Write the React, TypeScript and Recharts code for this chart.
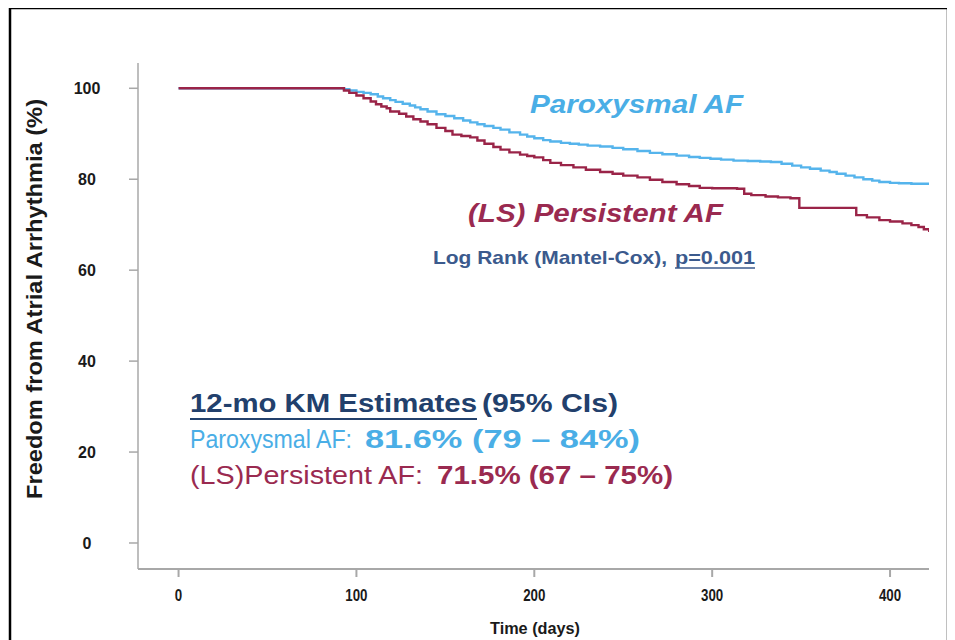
import { LineChart, Line, XAxis, YAxis } from 'recharts';

// Kaplan-Meier estimates (days, % free of AF)
const parDays = [0, 90, 93, 96, 100, 104, 108, 112, 115, 119, 122, 126, 130, 133, 136, 140, 145, 150, 155, 160, 164, 168, 172, 177, 181, 186, 192, 196, 200, 205, 209, 215, 220, 225, 230, 237, 244, 250, 258, 265, 272, 280, 287, 293, 299, 305, 312, 320, 327, 333, 339, 345, 350, 355, 361, 366, 370, 375, 380, 385, 390, 394, 400, 405, 412, 422];
const parSurv = [100, 100, 99.8, 99.5, 99.2, 99.0, 98.7, 98.2, 97.8, 97.4, 97.0, 96.6, 96.2, 95.8, 95.4, 94.9, 94.3, 93.9, 93.4, 92.9, 92.5, 92.1, 91.7, 91.3, 90.9, 90.3, 89.8, 89.4, 89.0, 88.6, 88.3, 88.0, 87.8, 87.6, 87.4, 87.2, 86.9, 86.6, 86.2, 85.8, 85.5, 85.2, 84.9, 84.7, 84.5, 84.3, 84.1, 84.0, 83.9, 83.8, 83.4, 83.0, 82.6, 82.3, 81.9, 81.6, 81.2, 80.8, 80.4, 80.0, 79.7, 79.4, 79.2, 79.1, 79.0, 79.0];

const perDays = [0, 90, 93, 96, 100, 104, 108, 111, 114, 117, 119, 124, 128, 132, 136, 140, 145, 150, 154, 159, 164, 168, 172, 177, 181, 186, 192, 196, 200, 205, 209, 215, 222, 229, 237, 244, 250, 258, 265, 272, 280, 287, 293, 300, 314, 318, 322, 330, 337, 344, 349, 362, 376, 381, 387, 394, 400, 407, 412, 416, 419, 422];
const perSurv = [100, 100, 99.5, 99.0, 98.4, 97.8, 97.1, 96.5, 96.0, 95.6, 94.9, 94.4, 93.8, 93.2, 92.7, 92.1, 91.3, 90.6, 89.8, 89.5, 89.2, 88.5, 87.8, 87.1, 86.5, 85.9, 85.4, 85.1, 84.8, 84.2, 83.6, 83.1, 82.6, 82.1, 81.6, 81.2, 80.8, 80.4, 79.9, 79.4, 78.9, 78.5, 78.1, 78.0, 77.9, 76.8, 76.5, 76.2, 76.0, 75.8, 73.7, 73.7, 73.7, 72.1, 71.6, 71.0, 70.7, 70.3, 69.9, 69.5, 69.0, 68.4];

const xTicks = [0, 100, 200, 300, 400];
const yTicks = [0, 20, 40, 60, 80, 100];

const BLUE = '#55b4ec';
const RED = '#9a2448';
const BLUE_TXT = '#4aaee6';
const RED_TXT = '#9a2a50';
const NAVY = '#22406c';
const AXIS = '#a8a8a8';

const parData = parDays.map((d, i) => ({ day: d, surv: parSurv[i] }));
const perData = perDays.map((d, i) => ({ day: d, surv: perSurv[i] }));

const YTick = ({ x, y, payload }: any) => (
  <text x={x} y={y} dy={6} textAnchor="middle" fontFamily="'Liberation Sans', Arial, sans-serif" fontWeight="bold" fontSize={16} fill="#1a1a1a">
    {payload.value}
  </text>
);

const XTick = ({ x, y, payload }: any) => {
  const s = String(payload.value);
  return (
    <text x={x} y={y} dy={24} textAnchor="middle" fontFamily="'Liberation Sans Narrow', 'Liberation Sans', Arial, sans-serif" fontWeight="bold" fontSize={16} fill="#1a1a1a" textLength={s.length * 7.4} lengthAdjust="spacingAndGlyphs">
      {s}
    </text>
  );
};

const font = "'Liberation Sans', Arial, sans-serif";

export default function App() {
  return (
    <div style={{ position: 'relative', width: 955, height: 640, margin: '-8px 0 0 -8px', background: '#fff', fontFamily: font }}>
      <LineChart width={955} height={640} margin={{ top: 63, right: 26, bottom: 31, left: 78 }}>
        <XAxis
          dataKey="day"
          type="number"
          domain={[-22.8, 421.9]}
          ticks={xTicks}
          allowDataOverflow
          height={40}
          stroke={AXIS}
          strokeWidth={2}
          tickSize={8}
          tickMargin={0}
          tick={<XTick />}
        />
        <YAxis
          type="number"
          domain={[-5.72, 105.56]}
          ticks={yTicks}
          allowDataOverflow
          width={60}
          stroke={AXIS}
          strokeWidth={1.5}
          tickSize={9}
          tickMargin={42}
          tick={<YTick />}
        />
        <Line data={parData} dataKey="surv" type="stepAfter" stroke={BLUE} strokeWidth={2.4} dot={false} isAnimationActive={false} />
        <Line data={perData} dataKey="surv" type="stepAfter" stroke={RED} strokeWidth={2.4} dot={false} isAnimationActive={false} />
      </LineChart>
      <svg width={955} height={640} style={{ position: 'absolute', left: 0, top: 0, pointerEvents: 'none' }} fontFamily={font}>
        <rect x={10} y={8} width={938} height={700} fill="none" stroke="#000" strokeWidth={2.5} />
        <text transform="translate(42,299) rotate(-90)" textAnchor="middle" fontSize={22} fontWeight="bold" fill="#1a1a1a" textLength={400} lengthAdjust="spacingAndGlyphs">
          Freedom from Atrial Arrhythmia (%)
        </text>
        <text x={490} y={634} fontFamily="'Liberation Sans Narrow', 'Liberation Sans', Arial, sans-serif" fontSize={16} fontWeight="bold" fill="#1a1a1a" textLength={90} lengthAdjust="spacingAndGlyphs">
          Time (days)
        </text>

        <text x={530} y={113} fontSize={25} fontWeight="bold" fontStyle="italic" fill={BLUE_TXT} textLength={213} lengthAdjust="spacingAndGlyphs">
          Paroxysmal AF
        </text>
        <text x={468} y={222} fontSize={26} fontWeight="bold" fontStyle="italic" fill={RED_TXT} textLength={255} lengthAdjust="spacingAndGlyphs">
          (LS) Persistent AF
        </text>
        <text x={433} y={264} fontSize={19} fontWeight="bold" fill="#3b5a8d" textLength={234} lengthAdjust="spacingAndGlyphs">
          Log Rank (Mantel-Cox),
        </text>
        <text x={675} y={264} fontSize={19} fontWeight="bold" fill="#3b5a8d" textLength={80} lengthAdjust="spacingAndGlyphs">
          p=0.001
        </text>
        <line x1={675} x2={755} y1={268} y2={268} stroke="#3b5a8d" strokeWidth={1.5} />

        <text x={190} y={412} fontSize={25} fontWeight="bold" fill={NAVY} textLength={287} lengthAdjust="spacingAndGlyphs">
          12-mo KM Estimates
        </text>
        <line x1={190} x2={477} y1={419} y2={419} stroke={NAVY} strokeWidth={2} />
        <text x={482} y={412} fontSize={25} fontWeight="bold" fill={NAVY} textLength={136} lengthAdjust="spacingAndGlyphs">
          (95% CIs)
        </text>
        <text x={190} y={448} fontSize={25} fill={BLUE_TXT} textLength={162} lengthAdjust="spacingAndGlyphs">
          Paroxysmal AF:
        </text>
        <text x={365} y={448} fontSize={25} fontWeight="bold" fill={BLUE_TXT} textLength={275} lengthAdjust="spacingAndGlyphs">
          81.6% (79 – 84%)
        </text>
        <text x={190} y={484} fontSize={25} fill={RED_TXT} textLength={233} lengthAdjust="spacingAndGlyphs">
          (LS)Persistent AF:
        </text>
        <text x={437} y={484} fontSize={25} fontWeight="bold" fill={RED_TXT} textLength={236} lengthAdjust="spacingAndGlyphs">
          71.5% (67 – 75%)
        </text>
      </svg>
    </div>
  );
}
